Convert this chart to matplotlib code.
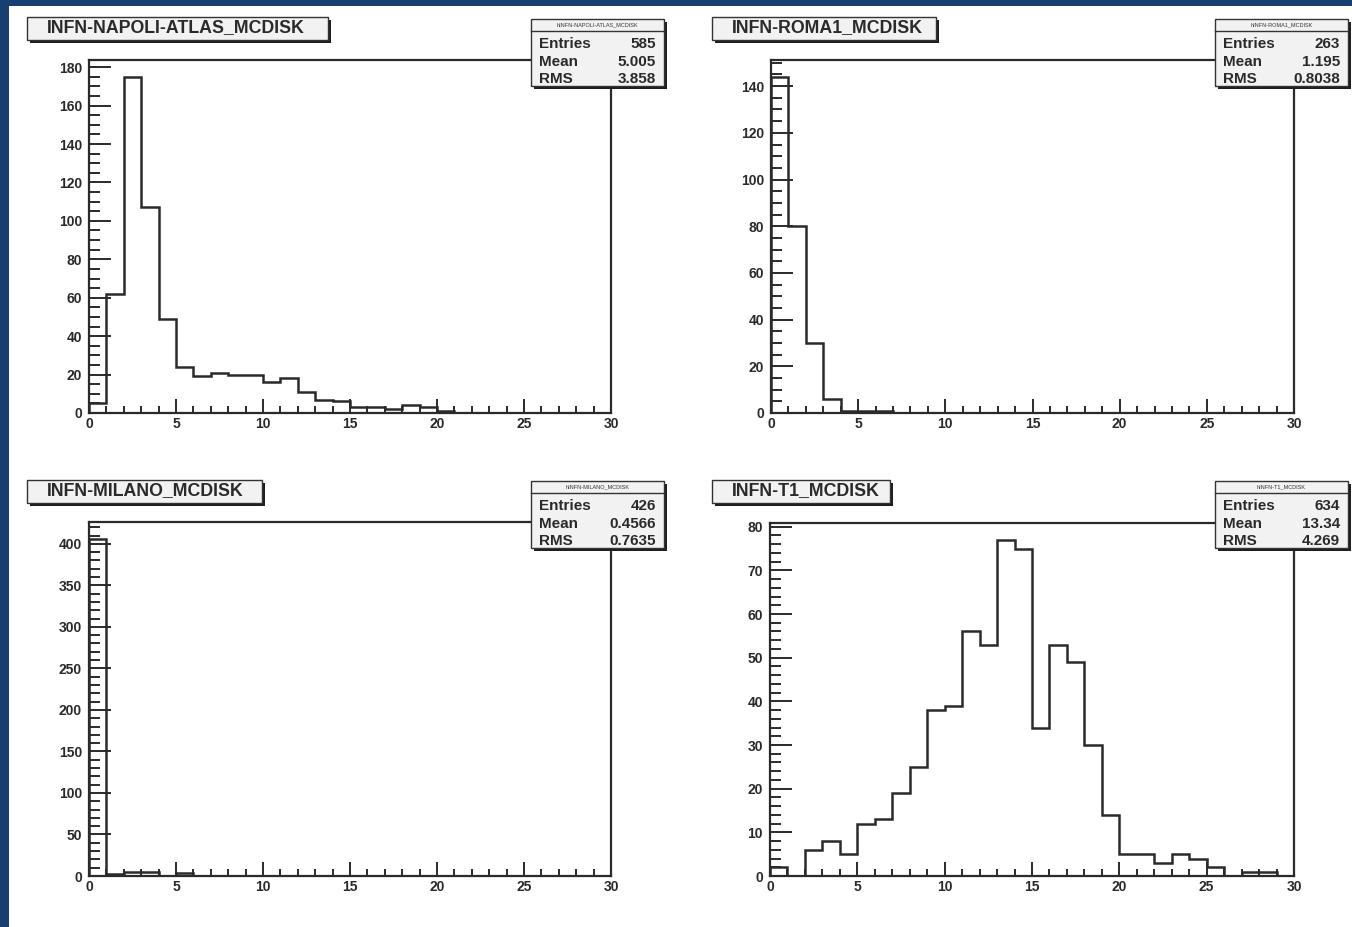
import numpy as np
import matplotlib
matplotlib.use("Agg")
import matplotlib.pyplot as plt
from matplotlib.patches import Rectangle
from matplotlib.ticker import MultipleLocator

# ---------------- data ----------------
edges = np.arange(0, 31, 1)

napoli_title = "INFN-NAPOLI-ATLAS_MCDISK"
napoli_counts = [5, 62, 175, 107, 49, 24, 19, 21, 20, 20, 16, 18, 11, 7, 6,
                 3, 3, 2, 4, 3, 1, 0, 0, 0, 0, 0, 0, 0, 0, 0]
napoli_stats = ["585", "5.005", "3.858"]

roma_title = "INFN-ROMA1_MCDISK"
roma_counts = [144, 80, 30, 6, 1, 1, 1, 0, 0, 0, 0, 0, 0, 0, 0,
               0, 0, 0, 0, 0, 0, 0, 0, 0, 0, 0, 0, 0, 0, 0]
roma_stats = ["263", "1.195", "0.8038"]

milano_title = "INFN-MILANO_MCDISK"
milano_counts = [406, 3, 5, 5, 0, 4, 0, 0, 0, 0, 0, 0, 0, 0, 0,
                 0, 0, 0, 0, 0, 0, 0, 0, 0, 0, 0, 0, 0, 0, 0]
milano_stats = ["426", "0.4566", "0.7635"]

t1_title = "INFN-T1_MCDISK"
t1_counts = [2, 0, 6, 8, 5, 12, 13, 19, 25, 38, 39, 56, 53, 77, 75,
             34, 53, 49, 30, 14, 5, 5, 3, 5, 4, 2, 0, 1, 1, 0]
t1_stats = ["634", "13.34", "4.269"]

stat_names = ["Entries", "Mean", "RMS"]

# ---------------- layout ----------------
W, H = 1352, 927
fig = plt.figure(figsize=(W / 100, H / 100), dpi=100)
fig.patch.set_facecolor("white")
plt.rcParams["font.family"] = ["Liberation Sans", "DejaVu Sans"]

def fx(x):
    return x / W

def fy(y):
    return 1 - y / H

def frect(x0, y0, x1, y1, **kw):
    r = Rectangle((fx(x0), fy(y1)), (x1 - x0) / W, (y1 - y0) / H,
                  transform=fig.transFigure, **kw)
    fig.patches.append(r)
    return r

# blue frame bands
blue = "#173f72"
frect(0, 0, W, 6, facecolor=blue, edgecolor="none", zorder=0)
frect(0, 0, 9, H, facecolor=blue, edgecolor="none", zorder=0)

panels = [
    dict(title=napoli_title, counts=napoli_counts, stats=napoli_stats,
         ax=(89, 60, 611, 413), tbox=(27, 17, 328, 40), sbox=(531, 19, 664, 86),
         major=20, minor=5),
    dict(title=roma_title, counts=roma_counts, stats=roma_stats,
         ax=(771, 60, 1294, 413), tbox=(712, 17, 936, 40), sbox=(1215, 19, 1348, 86),
         major=20, minor=5),
    dict(title=milano_title, counts=milano_counts, stats=milano_stats,
         ax=(89, 522, 611, 876), tbox=(27, 480, 262, 503), sbox=(531, 481, 664, 548),
         major=50, minor=10),
    dict(title=t1_title, counts=t1_counts, stats=t1_stats,
         ax=(770, 523, 1294, 876), tbox=(712, 480, 890, 503), sbox=(1215, 481, 1348, 548),
         major=10, minor=2),
]

line_col = "#2a2a2a"
for p in panels:
    x0, y0, x1, y1 = p["ax"]
    ax = fig.add_axes([fx(x0), fy(y1), (x1 - x0) / W, (y1 - y0) / H])
    ax.stairs(p["counts"], edges, color=line_col, linewidth=1.8)
    ax.set_xlim(0, 30)
    ax.set_ylim(0, 1.05 * max(p["counts"]))
    ax.xaxis.set_major_locator(MultipleLocator(5))
    ax.xaxis.set_minor_locator(MultipleLocator(1))
    ax.yaxis.set_major_locator(MultipleLocator(p["major"]))
    ax.yaxis.set_minor_locator(MultipleLocator(p["minor"]))
    for s in ax.spines.values():
        s.set_color(line_col)
        s.set_linewidth(1.6)
    ax.tick_params(axis="both", which="both", direction="in", color=line_col,
                   width=1.4, labelsize=10, labelcolor="#2a2a2a", top=False, right=False)
    ax.tick_params(axis="y", which="major", length=16, pad=5)
    ax.tick_params(axis="y", which="minor", length=8)
    ax.tick_params(axis="x", which="major", length=10, pad=3)
    ax.tick_params(axis="x", which="minor", length=5)
    for lab in ax.get_xticklabels() + ax.get_yticklabels():
        lab.set_fontweight("bold")

    # title box with shadow
    tx0, ty0, tx1, ty1 = p["tbox"]
    frect(tx0 + 3, ty0 + 3, tx1 + 3, ty1 + 3, facecolor="#1e1e1e", edgecolor="none", zorder=5)
    frect(tx0, ty0, tx1, ty1, facecolor="#f2f2f2", edgecolor="#333333", linewidth=1.0, zorder=6)
    fig.text(fx(tx0 + 20), fy((ty0 + ty1) / 2 - 1), p["title"], ha="left", va="center",
             fontsize=12.8, fontweight="bold", color="#2a2a2a", zorder=7)

    # stats box with shadow
    sx0, sy0, sx1, sy1 = p["sbox"]
    frect(sx0 + 3, sy0 + 3, sx1 + 3, sy1 + 3, facecolor="#1e1e1e", edgecolor="none", zorder=5)
    frect(sx0, sy0, sx1, sy1, facecolor="#f2f2f2", edgecolor="#333333", linewidth=1.0, zorder=6)
    fig.add_artist(plt.Line2D([fx(sx0), fx(sx1)], [fy(sy0 + 12), fy(sy0 + 12)],
                              transform=fig.transFigure, color="#333333", lw=1.0, zorder=7))
    fig.text(fx((sx0 + sx1) / 2), fy(sy0 + 6), "h" + p["title"], ha="center", va="center",
             fontsize=4, color="#333333", zorder=7)
    for i, (nm, val) in enumerate(zip(stat_names, p["stats"])):
        yy = sy0 + 25 + i * 17.5
        fig.text(fx(sx0 + 8), fy(yy), nm, ha="left", va="center", fontsize=11,
                 fontweight="bold", color="#2a2a2a", zorder=7)
        fig.text(fx(sx1 - 8), fy(yy), val, ha="right", va="center", fontsize=11,
                 fontweight="bold", color="#2a2a2a", zorder=7)

fig.savefig("out.png", dpi=100)
